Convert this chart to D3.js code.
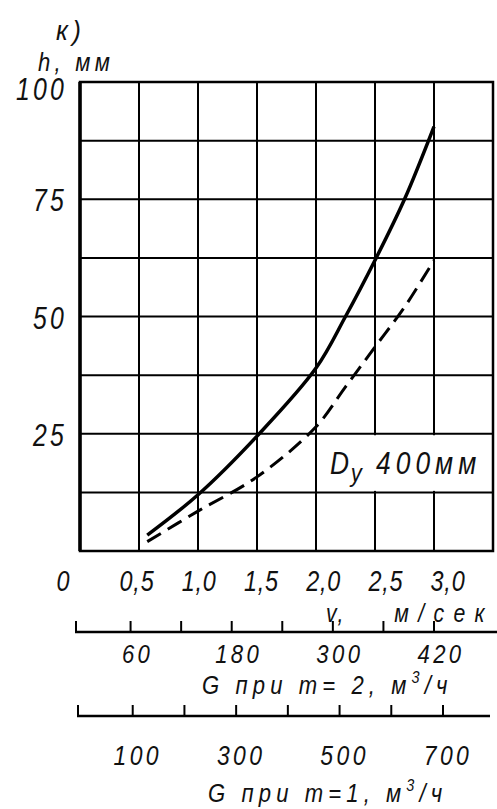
<!DOCTYPE html>
<html>
<head>
<meta charset="utf-8">
<script src="https://cdn.jsdelivr.net/npm/d3@7"></script>
<style>
  body { margin: 0; background: #fff; }
  text { font-family: "Liberation Sans", "DejaVu Sans", sans-serif; font-style: italic; fill: #111; }
</style>
</head>
<body>
<svg id="chart" width="497" height="809"></svg>
<script>
// data
var vTicks = [0.5, 1.0, 1.5, 2.0, 2.5, 3.0];
var vLabels = ["0,5", "1,0", "1,5", "2,0", "2,5", "3,0"];
var hTicks = [25, 50, 75, 100];
var g2Ticks = [60, 120, 180, 240, 300, 360, 420];
var g2Labels = [60, 180, 300, 420];
var g1Ticks = [100, 200, 300, 400, 500, 600, 700];
var g1Labels = [100, 300, 500, 700];

var vSolid = [0.57, 1.0, 1.5, 2.0, 2.25, 2.5, 2.75, 3.0];
var hSolid = [3.4, 12, 24.5, 39, 50, 62, 75, 90.5];
var vDashed = [0.57, 1.0, 1.5, 2.0, 2.25, 2.5, 2.75, 3.0];
var hDashed = [2, 8.5, 15.8, 26.5, 35, 43.5, 52, 62];

var svg = d3.select("#chart");

svg.append("rect").attr("width", 497).attr("height", 809).attr("fill", "#fff");

// scales
var x = d3.scaleLinear().domain([0, 3.5]).range([80, 493]);
var y = d3.scaleLinear().domain([0, 100]).range([551, 82]);
var xLab = d3.scaleLinear().domain([0.5, 3.0]).range([137, 448]); // labels drift right a little
var xG2 = d3.scaleLinear().domain([0, 420]).range([x(0), x(3.0)]);
var xG1 = d3.scaleLinear().domain([0, 700]).range([81, 443]);

// helper for the narrow, widely spaced italic lettering
function label(px, py, str, size, anchor, spacing, sx) {
  var g = svg.append("g").attr("transform", "translate(" + px + "," + py + ") scale(" + (sx || 0.78) + ",1)");
  return g.append("text")
    .attr("font-size", size)
    .attr("letter-spacing", spacing || 0)
    .attr("text-anchor", anchor || "middle")
    .text(str);
}

// grid
var grid = svg.append("g").attr("stroke", "#000").attr("stroke-width", 2);
grid.selectAll("line.v")
  .data(d3.range(0.5, 3.5, 0.5))
  .enter().append("line")
  .attr("x1", function (d) { return x(d); })
  .attr("x2", function (d) { return x(d); })
  .attr("y1", y(100)).attr("y2", y(0));
grid.selectAll("line.h")
  .data(d3.range(12.5, 100, 12.5))
  .enter().append("line")
  .attr("y1", function (d) { return y(d); })
  .attr("y2", function (d) { return y(d); })
  .attr("x1", x(0)).attr("x2", x(3.5));

// white box for the Dy label (cell 2.0..3.5, 12.5..25)
svg.append("rect")
  .attr("x", x(2.0) + 1.5)
  .attr("y", y(25) + 1.5)
  .attr("width", x(3.5) - x(2.0) - 3)
  .attr("height", y(12.5) - y(25) - 3)
  .attr("fill", "#fff");

// frame
svg.append("rect")
  .attr("x", x(0)).attr("y", y(100))
  .attr("width", x(3.5) - x(0)).attr("height", y(0) - y(100))
  .attr("fill", "none").attr("stroke", "#000").attr("stroke-width", 2.5);
svg.append("line")
  .attr("x1", x(0)).attr("x2", x(0)).attr("y1", y(100)).attr("y2", y(0))
  .attr("stroke", "#000").attr("stroke-width", 3.5);

// curves
var line = d3.line()
  .x(function (d) { return x(d[0]); })
  .y(function (d) { return y(d[1]); })
  .curve(d3.curveCatmullRom.alpha(0.5));

svg.append("path")
  .datum(d3.zip(vSolid, hSolid))
  .attr("d", line)
  .attr("fill", "none").attr("stroke", "#000").attr("stroke-width", 3.5);

svg.append("path")
  .datum(d3.zip(vDashed, hDashed))
  .attr("d", line)
  .attr("fill", "none").attr("stroke", "#000").attr("stroke-width", 3)
  .attr("stroke-dasharray", "16,8");

// y labels
hTicks.forEach(function (d) {
  label(67, y(d) + (d === 100 ? 18 : 12), String(d), 31, "end", 4, 0.8);
});
label(56, 40, "к)", 28, "start", 5, 0.9);
label(38, 71, "h, мм", 26, "start", 5, 0.85);

// v labels
label(63, 591, "0", 30, "middle");
vTicks.forEach(function (d, i) {
  label(xLab(d), 591, vLabels[i], 30, "middle", 1);
});
label(326, 622, "v,", 25, "start", 3, 0.85);
label(494, 622, "м/сек", 25, "end", 11, 0.85);

// Dy 400мм
var dy = label(330, 474, "D", 31, "start", 2, 0.85);
dy.append("tspan").attr("font-size", 26).attr("dy", 8).text("у");
dy.append("tspan").attr("dy", -8).attr("letter-spacing", 6).text(" 400мм");

// G scale for m = 2
var s2 = svg.append("g").attr("stroke", "#000").attr("stroke-width", 2);
s2.append("line").attr("x1", 75).attr("x2", 497).attr("y1", 632).attr("y2", 632).attr("stroke-width", 2.5);
s2.append("line").attr("x1", 76).attr("x2", 76).attr("y1", 621).attr("y2", 633);
s2.selectAll("line.t")
  .data(g2Ticks)
  .enter().append("line")
  .attr("x1", function (d) { return xG2(d); })
  .attr("x2", function (d) { return xG2(d); })
  .attr("y1", 621).attr("y2", 632);
g2Labels.forEach(function (d) {
  label(xG2(d) + 7, 663, String(d), 26, "middle", 4, 0.85);
});
var t2 = label(202, 694, "G при m= 2, м", 26, "start", 6, 0.85);
t2.append("tspan").attr("font-size", 17).attr("dy", -11).text("3");
t2.append("tspan").attr("dy", 11).text("/ч");

// G scale for m = 1
var s1 = svg.append("g").attr("stroke", "#000").attr("stroke-width", 2);
s1.append("line").attr("x1", 77).attr("x2", 490).attr("y1", 716).attr("y2", 716).attr("stroke-width", 2.5);
s1.append("line").attr("x1", 78).attr("x2", 78).attr("y1", 705).attr("y2", 717);
s1.selectAll("line.t")
  .data(g1Ticks)
  .enter().append("line")
  .attr("x1", function (d) { return xG1(d); })
  .attr("x2", function (d) { return xG1(d); })
  .attr("y1", 705).attr("y2", 716);
g1Labels.forEach(function (d) {
  label(xG1(d) + 5, 765, String(d), 27, "middle", 4, 0.85);
});
var t1 = label(208, 802, "G при m=1, м", 26, "start", 6, 0.85);
t1.append("tspan").attr("font-size", 17).attr("dy", -11).text("3");
t1.append("tspan").attr("dy", 11).text("/ч");
</script>
</body>
</html>
